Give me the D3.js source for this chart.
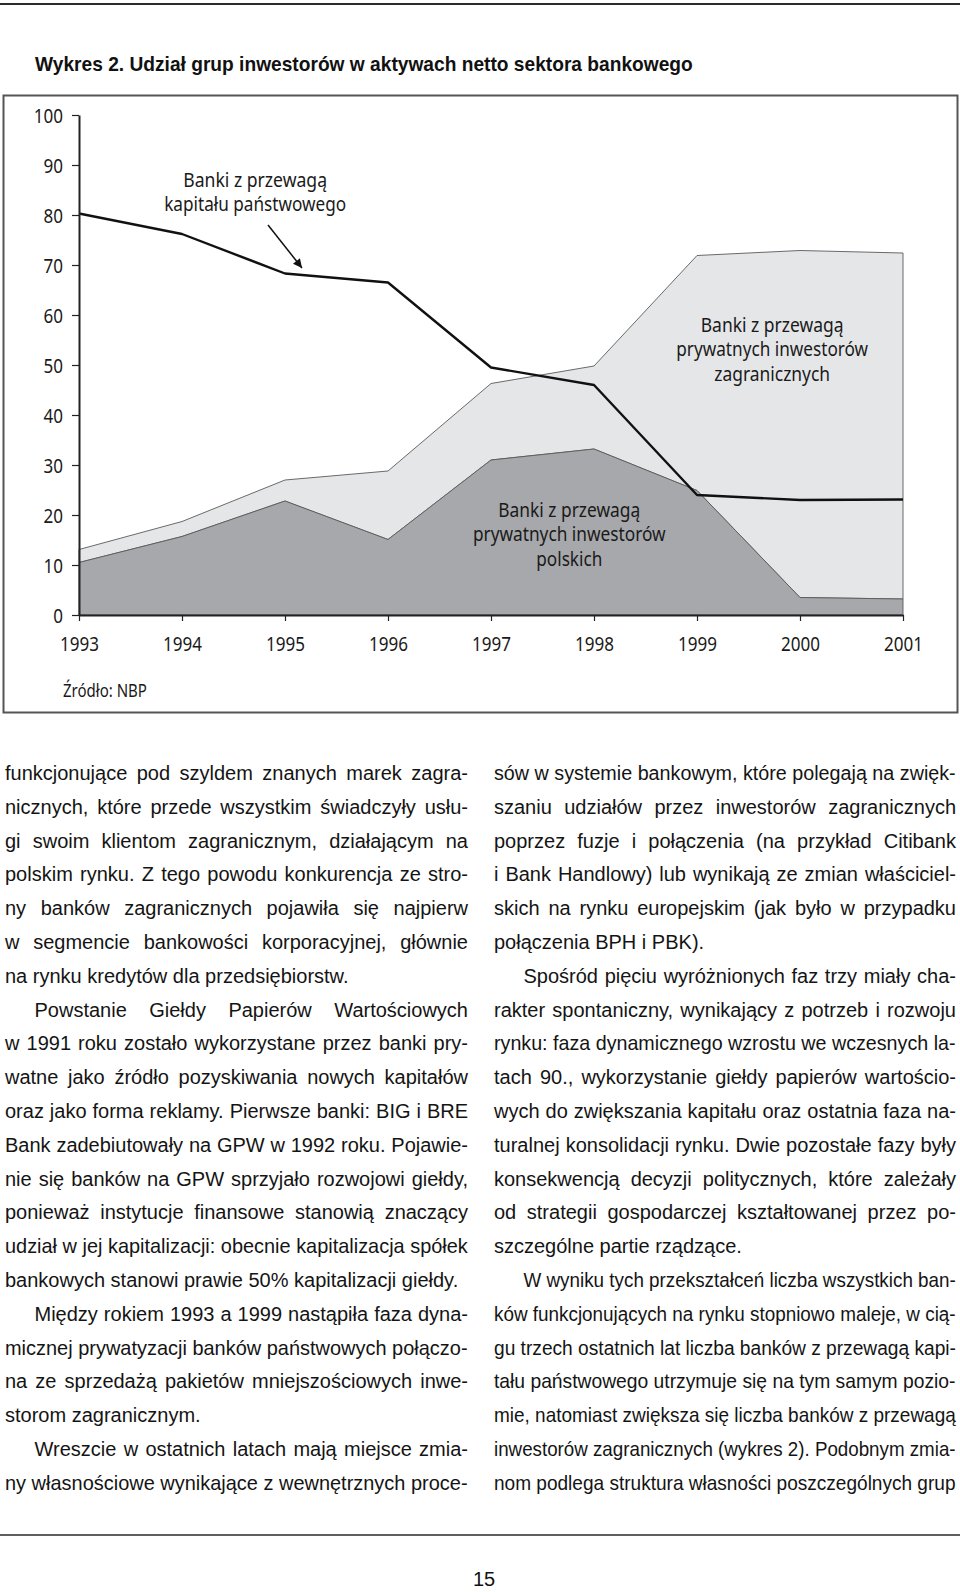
<!DOCTYPE html>
<html><head><meta charset="utf-8">
<script src="https://cdn.jsdelivr.net/npm/d3@7"></script>
<style>body{margin:0;background:#fff} svg{display:block}</style>
</head><body>
<svg id="page" width="960" height="1592"></svg>
<script>
// ---------------- DATA ----------------
const years = [1993, 1994, 1995, 1996, 1997, 1998, 1999, 2000, 2001];
const stateShare   = [80.3, 76.2, 68.3, 66.5, 49.5, 46.0, 24.0, 23.0, 23.1];
const polishShare  = [10.5, 15.7, 22.8, 15.1, 31.0, 33.2, 24.9, 3.5, 3.2];
const foreignShare = [2.6, 3.0, 4.2, 13.7, 15.3, 16.6, 47.0, 69.4, 69.2];
const yTicks = [0, 10, 20, 30, 40, 50, 60, 70, 80, 90, 100];

const titleText = "Wykres 2. Udział grup inwestorów w aktywach netto sektora bankowego";
const sourceText = "Źródło: NBP";
const labelState   = ["Banki z przewagą", "kapitału państwowego"];
const labelForeign = ["Banki z przewagą", "prywatnych inwestorów", "zagranicznych"];
const labelPolish  = ["Banki z przewagą", "prywatnych inwestorów", "polskich"];
const pageNumber = "15";

const leftParagraphs = [
  ["funkcjonujące pod szyldem znanych marek zagra-",
   "nicznych, które przede wszystkim świadczyły usłu-",
   "gi swoim klientom zagranicznym, działającym na",
   "polskim rynku. Z tego powodu konkurencja ze stro-",
   "ny banków zagranicznych pojawiła się najpierw",
   "w segmencie bankowości korporacyjnej, głównie",
   "na rynku kredytów dla przedsiębiorstw."],
  ["Powstanie Giełdy Papierów Wartościowych",
   "w 1991 roku zostało wykorzystane przez banki pry-",
   "watne jako źródło pozyskiwania nowych kapitałów",
   "oraz jako forma reklamy. Pierwsze banki: BIG i BRE",
   "Bank zadebiutowały na GPW w 1992 roku. Pojawie-",
   "nie się banków na GPW sprzyjało rozwojowi giełdy,",
   "ponieważ instytucje finansowe stanowią znaczący",
   "udział w jej kapitalizacji: obecnie kapitalizacja spółek",
   "bankowych stanowi prawie 50% kapitalizacji giełdy."],
  ["Między rokiem 1993 a 1999 nastąpiła faza dyna-",
   "micznej prywatyzacji banków państwowych połączo-",
   "na ze sprzedażą pakietów mniejszościowych inwe-",
   "storom zagranicznym."],
  ["Wreszcie w ostatnich latach mają miejsce zmia-",
   "ny własnościowe wynikające z wewnętrznych proce-"]
];
const rightParagraphs = [
  ["sów w systemie bankowym, które polegają na zwięk-",
   "szaniu udziałów przez inwestorów zagranicznych",
   "poprzez fuzje i połączenia (na przykład Citibank",
   "i Bank Handlowy) lub wynikają ze zmian właściciel-",
   "skich na rynku europejskim (jak było w przypadku",
   "połączenia BPH i PBK)."],
  ["Spośród pięciu wyróżnionych faz trzy miały cha-",
   "rakter spontaniczny, wynikający z potrzeb i rozwoju",
   "rynku: faza dynamicznego wzrostu we wczesnych la-",
   "tach 90., wykorzystanie giełdy papierów wartościo-",
   "wych do zwiększania kapitału oraz ostatnia faza na-",
   "turalnej konsolidacji rynku. Dwie pozostałe fazy były",
   "konsekwencją decyzji politycznych, które zależały",
   "od strategii gospodarczej kształtowanej przez po-",
   "szczególne partie rządzące."],
  ["W wyniku tych przekształceń liczba wszystkich ban-",
   "ków funkcjonujących na rynku stopniowo maleje, w cią-",
   "gu trzech ostatnich lat liczba banków z przewagą kapi-",
   "tału państwowego utrzymuje się na tym samym pozio-",
   "mie, natomiast zwiększa się liczba banków z przewagą",
   "inwestorów zagranicznych (wykres 2). Podobnym zmia-",
   "nom podlega struktura własności poszczególnych grup"]
];

// ---------------- LAYOUT / STYLE ----------------
const CHART_FONT = "'Noto Sans', 'Open Sans', sans-serif";
const BODY_FONT = "'Liberation Sans', Arial, Helvetica, sans-serif";
const svg = d3.select('#page');

const measurer = svg.append('text').attr('x', -1000).attr('y', -1000);
function measure(str, font, size, weight) {
  measurer.attr('font-family', font).attr('font-size', size).attr('font-weight', weight || 'normal').text(str);
  return measurer.node().getComputedTextLength();
}
// place a text at (px,py) squeezed/stretched horizontally to a target width via transform
function fitText(parent, str, px, py, target, font, size, weight, anchor) {
  const nat = measure(str, font, size, weight);
  const k = target / nat;
  return parent.append('text')
    .attr('transform', `translate(${px},${py}) scale(${k},1)`)
    .attr('font-family', font).attr('font-size', size).attr('font-weight', weight || 'normal')
    .attr('text-anchor', anchor || 'start')
    .text(str);
}

// top rule
svg.append('line').attr('x1', 0).attr('x2', 960).attr('y1', 4).attr('y2', 4)
  .attr('stroke', '#2a2a2a').attr('stroke-width', 1.8);

// title
fitText(svg, titleText, 35, 71, 658, BODY_FONT, 19.5, 'bold').attr('fill', '#111');

// chart frame
svg.append('rect').attr('x', 3.5).attr('y', 95.5).attr('width', 954).attr('height', 617)
  .attr('fill', 'none').attr('stroke', '#555').attr('stroke-width', 2);

// scales
const x = d3.scaleLinear().domain([1993, 2001]).range([79, 903]);
const y = d3.scaleLinear().domain([0, 100]).range([615, 115]);

const table = years.map((yr, i) => ({ year: yr, polish: polishShare[i], foreign: foreignShare[i], state: stateShare[i] }));
const stacked = d3.stack().keys(['polish', 'foreign'])(table);
const area = d3.area().x(d => x(d.data.year)).y0(d => y(d[0])).y1(d => y(d[1]));
const fills = { polish: '#a7a8ab', foreign: '#e5e6e8' };

const plot = svg.append('g');
plot.selectAll('path.area').data(stacked.slice().reverse()).join('path')
  .attr('class', 'area')
  .attr('d', area)
  .attr('fill', d => fills[d.key])
  .attr('stroke', '#5a5a5a').attr('stroke-width', 0.9).attr('stroke-linejoin', 'round');

// state line
plot.append('path').datum(table)
  .attr('d', d3.line().x(d => x(d.year)).y(d => y(d.state)))
  .attr('fill', 'none').attr('stroke', '#111').attr('stroke-width', 2.4).attr('stroke-linejoin', 'round');

// axes
const tickFactor = 39 / measure('1993', CHART_FONT, 19);
function condense(sel) {
  sel.each(function () {
    const w = this.getComputedTextLength();
    d3.select(this).attr('textLength', w * tickFactor).attr('lengthAdjust', 'spacingAndGlyphs');
  });
}
const yAxis = svg.append('g').attr('transform', `translate(${x(1993)},0)`)
  .call(d3.axisLeft(y).tickValues(yTicks).tickSize(7).tickSizeOuter(0).tickPadding(9));
const xAxis = svg.append('g').attr('transform', `translate(0,${y(0)})`)
  .call(d3.axisBottom(x).tickValues(years).tickFormat(d3.format('d')).tickSize(6).tickSizeOuter(0).tickPadding(17));
[yAxis, xAxis].forEach(ax => {
  ax.select('.domain').attr('stroke', '#222').attr('stroke-width', 2);
  ax.selectAll('.tick line').attr('stroke', '#222').attr('stroke-width', 1.2);
  ax.selectAll('.tick text').attr('font-family', CHART_FONT).attr('font-size', 19).attr('fill', '#1a1a1a');
});
yAxis.selectAll('.tick text').attr('dy', '0.42em');
condense(yAxis.selectAll('.tick text'));
condense(xAxis.selectAll('.tick text'));

// source
fitText(svg, sourceText, 63, 697, 84, CHART_FONT, 18).attr('fill', '#1a1a1a');

// annotations (anchored in data space)
function annot(lines, cx, vTop, widths) {
  const g = svg.append('g').attr('fill', '#1a1a1a');
  lines.forEach((s, i) => {
    fitText(g, s, x(cx), y(vTop) + i * 24.7, widths[i], CHART_FONT, 19.5, 'normal', 'middle');
  });
}
annot(labelState, 1994.71, 85.7, [144, 182]);
annot(labelForeign, 1999.73, 56.66, [143, 192, 116]);
annot(labelPolish, 1997.76, 19.66, [142, 193, 66]);

// arrow
svg.append('defs').append('marker').attr('id', 'ah')
  .attr('viewBox', '0 0 10 10').attr('refX', 10).attr('refY', 5)
  .attr('markerWidth', 11).attr('markerHeight', 9).attr('markerUnits', 'userSpaceOnUse')
  .attr('orient', 'auto')
  .append('path').attr('d', 'M0,0 L10,5 L0,10 Z').attr('fill', '#111');
svg.append('line')
  .attr('x1', x(1994.835)).attr('y1', y(78.0))
  .attr('x2', x(1995.165)).attr('y2', y(69.4))
  .attr('stroke', '#111').attr('stroke-width', 1.5).attr('marker-end', 'url(#ah)');

// ---------------- BODY TEXT ----------------
const BODY_SIZE = 20;
const baseline0 = 780;
const lineStep = 33.8;
const indentW = 29.5;
const spaceW = measure('a a', BODY_FONT, BODY_SIZE) - measure('aa', BODY_FONT, BODY_SIZE);
const bodyG = svg.append('g').attr('fill', '#141414');

function drawLine(str, x0, x1, yy, justify) {
  const words = str.split(' ');
  const widths = words.map(w => measure(w, BODY_FONT, BODY_SIZE));
  const sum = d3.sum(widths);
  const avail = x1 - x0;
  const natural = sum + spaceW * (words.length - 1);
  if (natural > avail) {
    fitText(bodyG, str, x0, yy, avail, BODY_FONT, BODY_SIZE);
    return;
  }
  if (!justify || words.length < 2) {
    bodyG.append('text').attr('x', x0).attr('y', yy)
      .attr('font-family', BODY_FONT).attr('font-size', BODY_SIZE).text(str);
    return;
  }
  const gap = (avail - sum) / (words.length - 1);
  const t = bodyG.append('text').attr('y', yy).attr('font-family', BODY_FONT).attr('font-size', BODY_SIZE);
  let cx = x0;
  words.forEach((w, i) => { t.append('tspan').attr('x', cx).text(w); cx += widths[i] + gap; });
}

function drawColumn(paragraphs, x0, x1, firstContinues, lastContinues) {
  let row = 0;
  paragraphs.forEach((para, pi) => {
    para.forEach((line, li) => {
      const indent = (li === 0 && !(pi === 0 && firstContinues)) ? indentW : 0;
      const isLast = li === para.length - 1;
      const justify = !isLast || (pi === paragraphs.length - 1 && lastContinues);
      drawLine(line, x0 + indent, x1, baseline0 + row * lineStep, justify);
      row++;
    });
  });
}
drawColumn(leftParagraphs, 5, 468, true, true);
drawColumn(rightParagraphs, 494, 956, true, true);

// bottom rule + page number
svg.append('line').attr('x1', 0).attr('x2', 960).attr('y1', 1535).attr('y2', 1535)
  .attr('stroke', '#2a2a2a').attr('stroke-width', 1.6);
svg.append('text').attr('x', 484).attr('y', 1586).attr('text-anchor', 'middle')
  .attr('font-family', BODY_FONT).attr('font-size', 20).attr('fill', '#111').text(pageNumber);

measurer.remove();
</script>
</body></html>
